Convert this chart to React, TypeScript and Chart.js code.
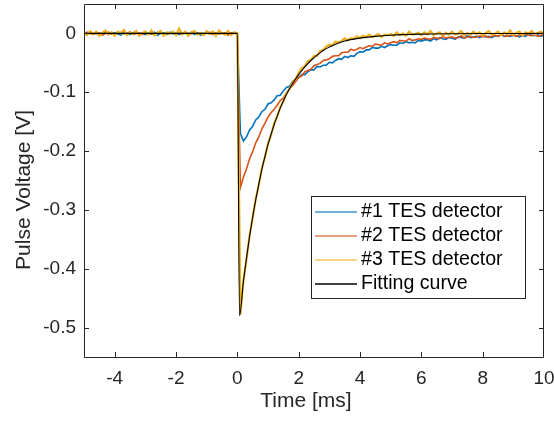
import React, { useEffect, useRef } from "react";
import { Chart, registerables } from "chart.js";

Chart.register(...registerables);

// Sample clock of the three recorded traces (ms)
const timeMs: number[] = [
  -5, -4.9, -4.8, -4.7, -4.6, -4.5, -4.4, -4.3, -4.2, -4.1,
  -4, -3.9, -3.8, -3.7, -3.6, -3.5, -3.4, -3.3, -3.2, -3.1,
  -3, -2.9, -2.8, -2.7, -2.6, -2.5, -2.4, -2.3, -2.2, -2.1,
  -2, -1.9, -1.8, -1.7, -1.6, -1.5, -1.4, -1.3, -1.2, -1.1,
  -1, -0.9, -0.8, -0.7, -0.6, -0.5, -0.4, -0.3, -0.2, -0.1,
  0, 0.1, 0.2, 0.3, 0.4, 0.5, 0.6, 0.7, 0.8, 0.9,
  1, 1.1, 1.2, 1.3, 1.4, 1.5, 1.6, 1.7, 1.8, 1.9,
  2, 2.1, 2.2, 2.3, 2.4, 2.5, 2.6, 2.7, 2.8, 2.9,
  3, 3.1, 3.2, 3.3, 3.4, 3.5, 3.6, 3.7, 3.8, 3.9,
  4, 4.1, 4.2, 4.3, 4.4, 4.5, 4.6, 4.7, 4.8, 4.9,
  5, 5.1, 5.2, 5.3, 5.4, 5.5, 5.6, 5.7, 5.8, 5.9,
  6, 6.1, 6.2, 6.3, 6.4, 6.5, 6.6, 6.7, 6.8, 6.9,
  7, 7.1, 7.2, 7.3, 7.4, 7.5, 7.6, 7.7, 7.8, 7.9,
  8, 8.1, 8.2, 8.3, 8.4, 8.5, 8.6, 8.7, 8.8, 8.9,
  9, 9.1, 9.2, 9.3, 9.4, 9.5, 9.6, 9.7, 9.8, 9.9,
  10,
];

// #1 TES detector (V)
const tes1Voltage: number[] = [
  0.001, -0.002, 0.002, -0.001, 0.0, -0.003, 0.001, 0.002, -0.002, 0.0,
  0.001, -0.001, -0.003, 0.002, 0.0, -0.002, 0.001, 0.003, -0.001, 0.0,
  -0.002, 0.001, -0.001, 0.002, -0.003, 0.0, 0.001, -0.002, 0.002, -0.001,
  0.0, -0.002, 0.001, 0.0, -0.001, 0.002, -0.002, 0.001, -0.003, 0.0,
  0.002, -0.001, 0.001, -0.002, 0.0, 0.001, -0.002, 0.002, -0.001, 0.001,
  0.0, -0.17, -0.183, -0.176, -0.164, -0.158, -0.147, -0.142, -0.133, -0.129,
  -0.12, -0.118, -0.113, -0.106, -0.105, -0.098, -0.092, -0.09, -0.082, -0.078,
  -0.075, -0.07, -0.07, -0.065, -0.062, -0.062, -0.056, -0.057, -0.054, -0.054,
  -0.049, -0.05, -0.046, -0.043, -0.044, -0.039, -0.041, -0.038, -0.039, -0.034,
  -0.031, -0.032, -0.028, -0.028, -0.024, -0.025, -0.025, -0.022, -0.024, -0.021,
  -0.019, -0.02, -0.02, -0.016, -0.017, -0.014, -0.016, -0.015, -0.016, -0.012,
  -0.013, -0.011, -0.011, -0.013, -0.009, -0.011, -0.007, -0.009, -0.01, -0.007,
  -0.008, -0.01, -0.006, -0.007, -0.008, -0.004, -0.007, -0.006, -0.005, -0.007,
  -0.004, -0.006, -0.005, -0.007, -0.004, -0.005, -0.002, -0.005, -0.004, -0.005,
  -0.003, -0.004, -0.006, -0.003, -0.005, -0.001, -0.003, -0.004, -0.002, -0.005,
  -0.003,
];

// #2 TES detector (V)
const tes2Voltage: number[] = [
  -0.001, 0.002, 0.0, -0.002, 0.001, 0.001, -0.003, 0.0, 0.002, -0.001,
  -0.002, 0.001, 0.002, -0.001, 0.0, 0.003, -0.002, 0.0, 0.001, -0.002,
  0.001, -0.001, 0.0, -0.003, 0.002, 0.001, -0.002, 0.0, -0.001, 0.002,
  -0.001, 0.001, -0.002, 0.002, 0.0, -0.001, 0.003, -0.002, 0.001, -0.001,
  0.0, 0.002, -0.002, 0.001, -0.001, 0.0, 0.001, -0.003, 0.001, 0.0,
  0.0, -0.262, -0.244, -0.23, -0.213, -0.201, -0.186, -0.176, -0.162, -0.153,
  -0.142, -0.135, -0.129, -0.122, -0.114, -0.11, -0.101, -0.094, -0.089, -0.082,
  -0.075, -0.072, -0.065, -0.063, -0.061, -0.055, -0.053, -0.051, -0.046, -0.045,
  -0.043, -0.039, -0.038, -0.038, -0.033, -0.032, -0.032, -0.027, -0.029, -0.027,
  -0.024, -0.026, -0.023, -0.021, -0.022, -0.018, -0.019, -0.02, -0.016, -0.018,
  -0.016, -0.014, -0.016, -0.012, -0.013, -0.013, -0.009, -0.012, -0.011, -0.009,
  -0.01, -0.008, -0.009, -0.01, -0.007, -0.008, -0.009, -0.005, -0.008, -0.007,
  -0.006, -0.008, -0.007, -0.004, -0.008, -0.006, -0.005, -0.007, -0.006, -0.004,
  -0.006, -0.004, -0.007, -0.005, -0.003, -0.005, -0.002, -0.004, -0.005, -0.003,
  -0.003, -0.005, -0.002, -0.004, -0.001, -0.003, -0.004, -0.002, -0.005, -0.003,
  -0.002,
];

// #3 TES detector (V)
const tes3Voltage: number[] = [
  0.002, -0.003, 0.004, -0.001, 0.003, -0.004, 0.001, 0.005, -0.002, 0.002,
  -0.004, 0.003, 0.0, 0.006, -0.003, 0.002, -0.001, 0.004, -0.004, 0.001,
  0.003, -0.002, 0.005, -0.003, 0.001, 0.004, -0.004, 0.002, 0.0, 0.003,
  -0.003, 0.008, -0.001, 0.003, -0.004, 0.002, 0.004, -0.002, 0.001, -0.003,
  0.004, -0.001, 0.003, -0.004, 0.005, 0.0, -0.002, 0.004, -0.003, 0.002,
  0.0, -0.478, -0.419, -0.384, -0.343, -0.314, -0.281, -0.258, -0.229, -0.211,
  -0.187, -0.173, -0.153, -0.141, -0.125, -0.116, -0.102, -0.095, -0.083, -0.078,
  -0.067, -0.059, -0.056, -0.047, -0.045, -0.038, -0.038, -0.03, -0.028, -0.022,
  -0.019, -0.02, -0.014, -0.015, -0.013, -0.008, -0.012, -0.008, -0.009, -0.005,
  -0.008, -0.004, -0.006, -0.002, -0.006, -0.004, -0.001, -0.006, -0.002, -0.003,
  -0.001, -0.004, 0.002, -0.003, 0.0, -0.004, 0.003, -0.002, -0.001, 0.001,
  -0.003, 0.002, -0.002, 0.004, -0.003, 0.0, 0.002, -0.004, 0.001, -0.002,
  0.003, -0.002, 0.0, 0.004, -0.003, 0.001, -0.002, 0.003, -0.001, 0.002,
  -0.003, 0.001, 0.004, -0.002, 0.0, 0.003, -0.003, 0.002, -0.001, 0.005,
  -0.002, 0.001, 0.003, -0.003, 0.002, 0.0, 0.004, -0.002, 0.001, 0.003,
  0.0,
];

// Fitting curve (ms, V)
const fitTimeMs: number[] = [
  -5, 0, 0.07, 0.2, 0.3, 0.4, 0.5, 0.6, 0.7, 0.8, 0.9, 1.0, 1.2, 1.4, 1.6, 1.8,
  2.0, 2.2, 2.4, 2.6, 2.8, 3.0, 3.5, 4.0, 4.5, 5, 6, 7, 8, 10,
];
const fitVoltage: number[] = [
  0, 0, -0.48, -0.421, -0.381, -0.345, -0.312, -0.283, -0.256, -0.231, -0.209, -0.189,
  -0.155, -0.127, -0.104, -0.085, -0.07, -0.057, -0.046, -0.037, -0.029, -0.023,
  -0.013, -0.008, -0.005, -0.003, -0.0012, -0.0005, -0.0002, 0,
];

const seriesNames = ["#1 TES detector", "#2 TES detector", "#3 TES detector", "Fitting curve"];
const seriesColors = ["#0072BD", "#D95319", "#EDB120", "#000000"];
const seriesWidths = [1.6, 1.6, 2.2, 1.1];

const xTickValues = [-4, -2, 0, 2, 4, 6, 8, 10];
const xTickLabels = ["-4", "-2", "0", "2", "4", "6", "8", "10"];
const yTickValues = [-0.5, -0.4, -0.3, -0.2, -0.1, 0];
const yTickLabels = ["-0.5", "-0.4", "-0.3", "-0.2", "-0.1", "0"];

const xTitle = "Time [ms]";
const yTitle = "Pulse Voltage [V]";

const FONT = "'Liberation Sans', Arial, Helvetica, sans-serif";
const AXIS_COLOR = "#262626";

const framePlugin = {
  id: "matlabFrame",
  afterDatasetsDraw(chart: any) {
    const { ctx, chartArea } = chart;
    const xs = chart.scales.x;
    const ys = chart.scales.y;
    const L = chartArea.left, R = chartArea.right, T = chartArea.top, B = chartArea.bottom;
    ctx.save();
    ctx.strokeStyle = AXIS_COLOR;
    ctx.lineWidth = 1;
    ctx.beginPath();
    ctx.rect(L + 0.5, T + 0.5, R - L - 1, B - T);
    ctx.stroke();
    const tl = 5;
    ctx.beginPath();
    xs.ticks.forEach((t: any) => {
      const p = Math.round(xs.getPixelForValue(t.value)) + 0.5;
      if (p < L + 2 || p > R - 2) return;
      ctx.moveTo(p, B);
      ctx.lineTo(p, B - tl);
      ctx.moveTo(p, T);
      ctx.lineTo(p, T + tl);
    });
    ys.ticks.forEach((t: any) => {
      const p = Math.round(ys.getPixelForValue(t.value)) + 0.5;
      if (p < T + 2 || p > B - 2) return;
      ctx.moveTo(L, p);
      ctx.lineTo(L + tl, p);
      ctx.moveTo(R, p);
      ctx.lineTo(R - tl, p);
    });
    ctx.stroke();

    // axis titles
    ctx.fillStyle = AXIS_COLOR;
    ctx.font = `21px ${FONT}`;
    ctx.textAlign = "center";
    ctx.textBaseline = "middle";
    ctx.fillText(xTitle, 306, 401);
    ctx.save();
    ctx.translate(24, 190);
    ctx.rotate(-Math.PI / 2);
    ctx.fillText(yTitle, 0, 0);
    ctx.restore();

    // legend
    const lx = 311, ly = 196, lw = 214, lh = 102;
    ctx.fillStyle = "#ffffff";
    ctx.fillRect(lx, ly, lw, lh);
    ctx.strokeStyle = AXIS_COLOR;
    ctx.lineWidth = 1;
    ctx.strokeRect(lx + 0.5, ly + 0.5, lw, lh);
    ctx.font = `19.6px ${FONT}`;
    ctx.textAlign = "left";
    ctx.textBaseline = "middle";
    const rows = [212, 236, 260, 284];
    seriesNames.forEach((name, i) => {
      const y = rows[i];
      ctx.strokeStyle = seriesColors[i];
      ctx.globalAlpha = i === 3 ? 1 : 0.75;
      ctx.lineWidth = 1.4;
      ctx.beginPath();
      ctx.moveTo(315, y);
      ctx.lineTo(357, y);
      ctx.stroke();
      ctx.globalAlpha = 1;
      ctx.fillStyle = "#000000";
      ctx.fillText(name, 361, y);
    });
    ctx.restore();
  },
};

export default function App() {
  const canvasRef = useRef<HTMLCanvasElement | null>(null);

  useEffect(() => {
    const canvas = canvasRef.current;
    if (!canvas) return;
    const traces = [tes1Voltage, tes2Voltage, tes3Voltage];
    const datasets: any[] = traces.map((vals, i) => ({
      label: seriesNames[i],
      data: timeMs.map((t, k) => ({ x: t, y: vals[k] })),
      borderColor: seriesColors[i],
      borderWidth: seriesWidths[i],
      pointRadius: 0,
      fill: false,
      tension: 0,
      order: 3 - i,
    }));
    datasets.push({
      label: seriesNames[3],
      data: fitTimeMs.map((t, k) => ({ x: t, y: fitVoltage[k] })),
      borderColor: seriesColors[3],
      borderWidth: seriesWidths[3],
      pointRadius: 0,
      fill: false,
      cubicInterpolationMode: "monotone",
      order: 0,
    });

    const chart = new Chart(canvas, {
      type: "line",
      data: { datasets },
      options: {
        animation: false,
        responsive: false,
        devicePixelRatio: 1,
        layout: { padding: { top: 4, right: 10, left: 0, bottom: 0 } },
        plugins: { legend: { display: false }, tooltip: { enabled: false } },
        scales: {
          x: {
            type: "linear",
            min: -5,
            max: 10,
            grid: { display: false, drawTicks: false },
            border: { display: false },
            afterBuildTicks: (scale: any) => {
              scale.ticks = xTickValues.map((v) => ({ value: v }));
            },
            afterFit: (scale: any) => {
              scale.height = 64;
              scale.paddingLeft = 0;
              scale.paddingRight = 0;
            },
            ticks: {
              autoSkip: false,
              maxRotation: 0,
              minRotation: 0,
              padding: 10,
              color: AXIS_COLOR,
              font: { family: FONT, size: 19 },
              callback: (v: any) => xTickLabels[xTickValues.indexOf(Number(v))] ?? "",
            },
          },
          y: {
            type: "linear",
            min: -0.55,
            max: 0.05,
            grid: { display: false, drawTicks: false },
            border: { display: false },
            afterBuildTicks: (scale: any) => {
              scale.ticks = yTickValues.map((v) => ({ value: v }));
            },
            afterFit: (scale: any) => {
              scale.width = 84;
              scale.paddingTop = 0;
              scale.paddingBottom = 0;
            },
            ticks: {
              autoSkip: false,
              padding: 8,
              color: AXIS_COLOR,
              font: { family: FONT, size: 19 },
              callback: (v: any) => yTickLabels[yTickValues.indexOf(Number(v))] ?? "",
            },
          },
        },
      },
      plugins: [framePlugin],
    });
    return () => chart.destroy();
  }, []);

  return (
    <div style={{ position: "absolute", left: 0, top: 0, width: 554, height: 421, background: "#fff" }}>
      <canvas ref={canvasRef} width={554} height={421} style={{ display: "block" }} />
    </div>
  );
}
